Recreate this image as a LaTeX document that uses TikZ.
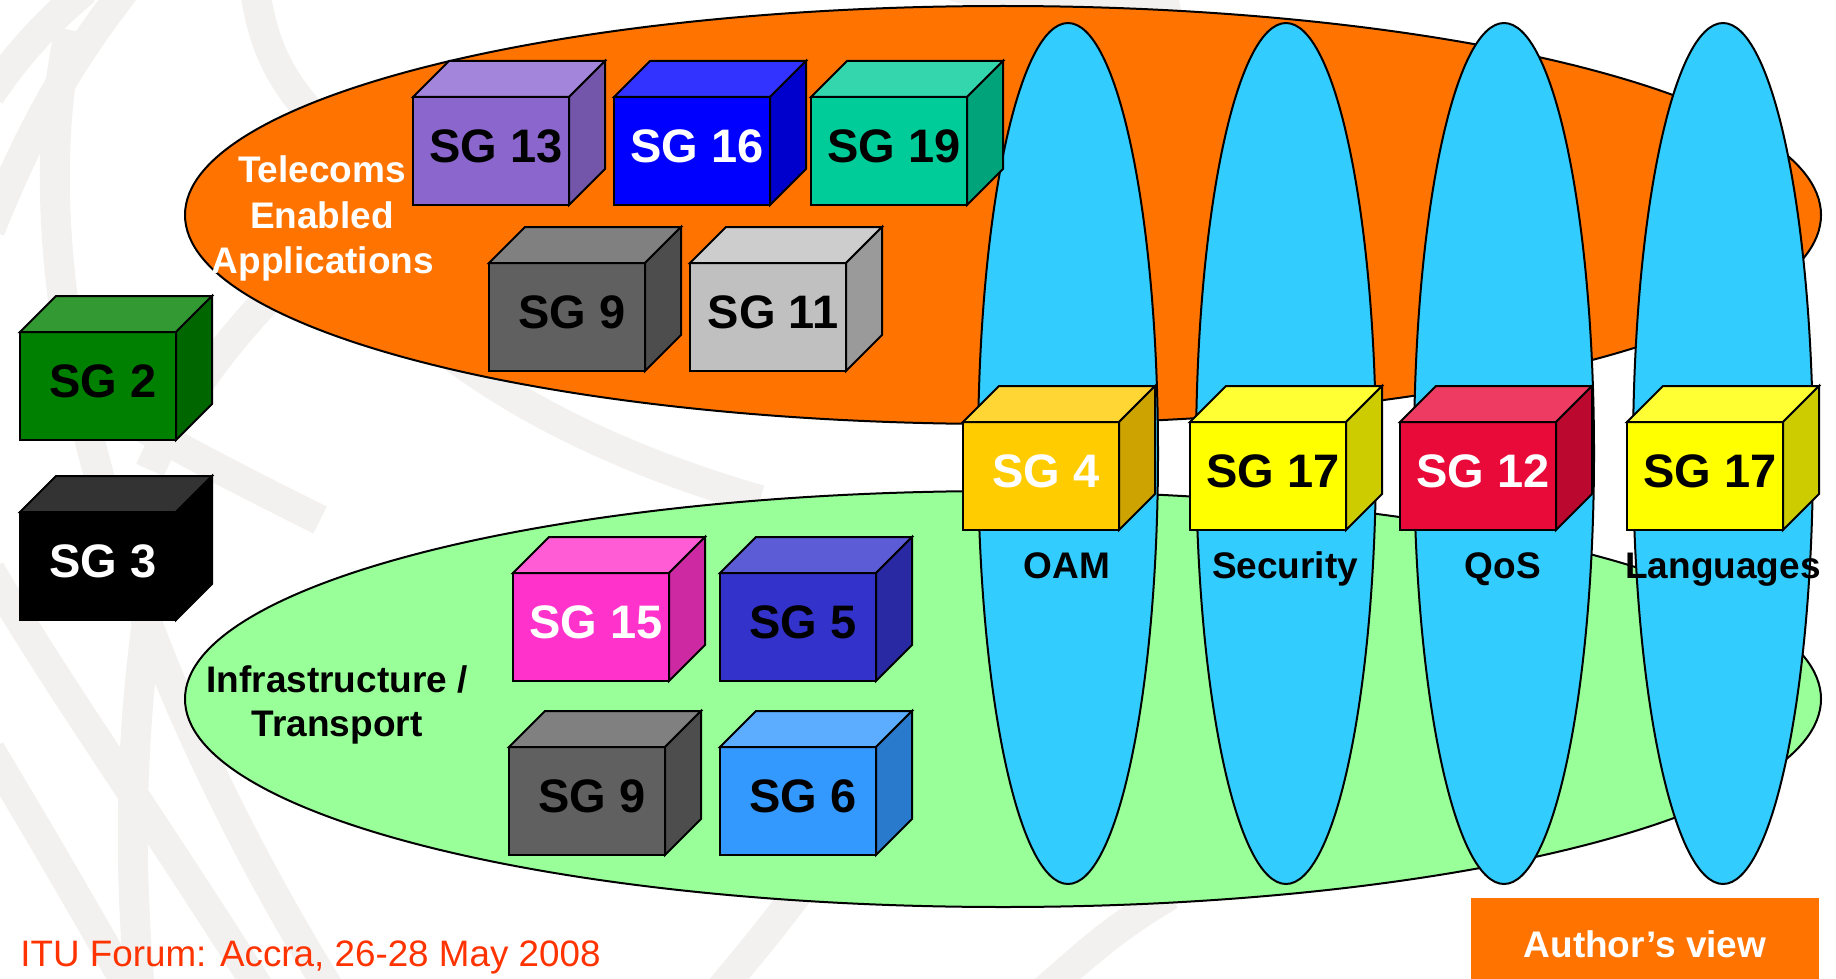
\documentclass[tikz,border=0pt]{standalone}
\usepackage{fontspec}
\setmainfont{Liberation Sans}
\definecolor{wm}{HTML}{F2F1EF}
\definecolor{orng}{HTML}{FF7400}
\definecolor{grn}{HTML}{99FF99}
\definecolor{sky}{HTML}{33CCFF}
\definecolor{footred}{HTML}{FF3300}
\definecolor{c13F}{HTML}{8B66CC}\definecolor{c13T}{HTML}{A385DB}\definecolor{c13S}{HTML}{7355AA}
\definecolor{c16F}{HTML}{0000FF}\definecolor{c16T}{HTML}{3333FF}\definecolor{c16S}{HTML}{0000CC}
\definecolor{c19F}{HTML}{00CC99}\definecolor{c19T}{HTML}{33D6AD}\definecolor{c19S}{HTML}{00A37A}
\definecolor{c9F}{HTML}{606060}\definecolor{c9T}{HTML}{808080}\definecolor{c9S}{HTML}{4D4D4D}
\definecolor{c11F}{HTML}{C0C0C0}\definecolor{c11T}{HTML}{CDCDCD}\definecolor{c11S}{HTML}{9A9A9A}
\definecolor{c2F}{HTML}{008000}\definecolor{c2T}{HTML}{339933}\definecolor{c2S}{HTML}{006600}
\definecolor{c3F}{HTML}{000000}\definecolor{c3T}{HTML}{333333}\definecolor{c3S}{HTML}{000000}
\definecolor{c15F}{HTML}{FF33CC}\definecolor{c15T}{HTML}{FF5CD6}\definecolor{c15S}{HTML}{CC29A3}
\definecolor{c5F}{HTML}{3333CC}\definecolor{c5T}{HTML}{5C5CD6}\definecolor{c5S}{HTML}{2929A3}
\definecolor{c6F}{HTML}{3399FF}\definecolor{c6T}{HTML}{5CADFF}\definecolor{c6S}{HTML}{297ACC}
\definecolor{c4F}{HTML}{FFCC00}\definecolor{c4T}{HTML}{FFD633}\definecolor{c4S}{HTML}{CCA300}
\definecolor{c17F}{HTML}{FFFF00}\definecolor{c17T}{HTML}{FFFF33}\definecolor{c17S}{HTML}{CCCC00}
\definecolor{c12F}{HTML}{EA0A3A}\definecolor{c12T}{HTML}{EE3B61}\definecolor{c12S}{HTML}{BB082E}
\tikzset{
  wmline/.style={draw=wm, line width=15pt, line cap=butt},
  region/.style={draw=black, line width=1pt},
  cubefront/.style={draw=black, line width=1pt, minimum width=78pt, minimum height=54pt, inner sep=0pt, outer sep=0pt, anchor=north west},
  cubeedge/.style={draw=black, line width=1pt, line join=miter},
  cubelabel/.style={inner sep=0pt, font=\fontsize{23.5}{28}\selectfont\bfseries},
  arealabel/.style={inner sep=0pt, anchor=base, font=\fontsize{18.5}{22}\selectfont\bfseries},
}
\newcommand\sgbox[6]{%
  \node[cubefront, fill=#4F] (#1) at (#2,#3) {};
  \filldraw[cubeedge, fill=#4T] (#1.north west) -- ++(36,-36) -- ++(156,0) -- (#1.north east) -- cycle;
  \filldraw[cubeedge, fill=#4S] (#1.north east) -- ++(36,-36) -- ++(0,108) -- (#1.south east) -- cycle;
  \node[cubelabel, text=#5] (#1-l) at ([shift={(5,-5)}]#1.center) {#6};
}
\begin{document}
\begin{tikzpicture}[x=0.5pt,y=-0.5pt]
\useasboundingbox (0,0) rectangle (1836,979);
\fill[white] (0,0) rectangle (1836,979);
% watermark
\draw[wmline] (-10,95) .. controls (20,50) and (50,20) .. (85,-10);
\draw[wmline] (-10,230) .. controls (30,130) and (70,60) .. (125,-10);
\draw[wmline] (70,30) .. controls (20,250) and (90,600) .. (330,990);
\draw[wmline] (150,600) .. controls (128,750) and (130,880) .. (140,990);
\draw[wmline] (-10,570) .. controls (60,690) and (140,800) .. (260,990);
\draw[wmline] (-10,750) .. controls (50,850) and (90,920) .. (130,990);
\draw[wmline] (255,-10) .. controls (265,60) and (290,100) .. (360,160);
\draw[wmline] (150,470) .. controls (190,380) and (260,300) .. (330,240);
\draw[wmline] (420,330) .. controls (500,400) and (620,460) .. (760,500);
\draw[wmline] (130,420) .. controls (200,460) and (260,490) .. (320,520);
\draw[wmline] (800,890) .. controls (770,930) and (745,960) .. (720,990);
\draw[wmline] (1170,895) .. controls (1110,930) and (1080,960) .. (1045,990);
\draw[wmline] (950,-15) .. controls (1050,15) and (1120,20) .. (1180,5);
% regions
\filldraw[region, fill=orng] (1003,215) ellipse [x radius=818, y radius=209];
\filldraw[region, fill=grn] (1003,699) ellipse [x radius=818, y radius=208];
\foreach \cx in {1068,1286,1504,1723}
  \filldraw[region, fill=sky] (\cx,453.5) ellipse [x radius=90, y radius=430.5];
% area labels
\node[arealabel, text=white] (tea1) at (322,183) {Telecoms};
\node[arealabel, text=white] (tea2) at (322,228) {Enabled};
\node[arealabel, text=white] (tea3) at (323,273) {Applications};
\node[arealabel] (inf1) at (337,692) {Infrastructure /};
\node[arealabel] (inf2) at (337,736) {Transport};
% cubes
\sgbox{sg13}{413}{97}{c13}{black}{SG 13}
\sgbox{sg16}{614}{97}{c16}{white}{SG 16}
\sgbox{sg19}{811}{97}{c19}{black}{SG 19}
\sgbox{sg9a}{489}{263}{c9}{black}{SG 9}
\sgbox{sg11}{690}{263}{c11}{black}{SG 11}
\sgbox{sg2}{20}{332}{c2}{black}{SG 2}
\sgbox{sg3}{20}{512}{c3}{white}{SG 3}
\sgbox{sg15}{513}{573}{c15}{white}{SG 15}
\sgbox{sg5}{720}{573}{c5}{black}{SG 5}
\sgbox{sg9b}{509}{747}{c9}{black}{SG 9}
\sgbox{sg6}{720}{747}{c6}{black}{SG 6}
\sgbox{sg4}{963}{422}{c4}{white}{SG 4}
\sgbox{sg17a}{1190}{422}{c17}{black}{SG 17}
\sgbox{sg12}{1400}{422}{c12}{white}{SG 12}
\sgbox{sg17b}{1627}{422}{c17}{black}{SG 17}
% column labels
\node[arealabel] (oam) at (1067,578) {OAM};
\node[arealabel] (sec) at (1285,578) {Security};
\node[arealabel] (qos) at (1503,578) {QoS};
\node[arealabel] (lang) at (1723,578) {Languages};
% author box
\node[fill=orng, minimum width=174pt, minimum height=46pt, inner sep=0pt, outer sep=0pt, anchor=north west,
      text=white, font=\fontsize{18.5}{22}\selectfont\bfseries] (author) at (1471,898) {Author’s view};
% footer
\node[anchor=base west, inner sep=0pt, text=footred, font=\fontsize{18.4}{22}\selectfont] (footer) at (20,966) {ITU Forum: Accra, 26-28 May 2008};
\end{tikzpicture}
\end{document}
